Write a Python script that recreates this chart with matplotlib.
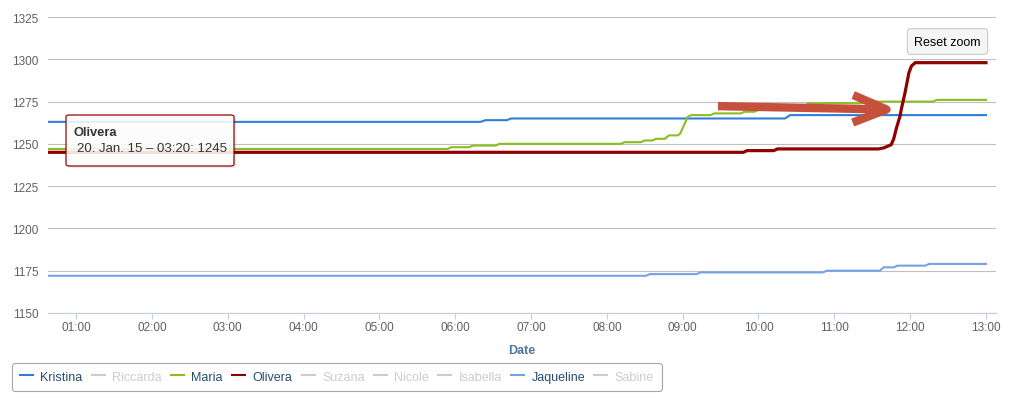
import pandas as pd
import matplotlib
matplotlib.use("Agg")
import matplotlib.pyplot as plt
import matplotlib.dates as mdates
from matplotlib.lines import Line2D
from matplotlib.patches import FancyBboxPatch

plt.rcParams["font.family"] = ["Liberation Sans", "DejaVu Sans"]

DAY = "2015-01-20 "

# series data (times on 20 Jan 2015)
KRISTINA_T = ["00:30", "06:20", "06:24", "06:41", "06:44", "10:21", "10:25", "13:00"]
KRISTINA_V = [1263, 1263, 1264, 1264, 1265, 1265, 1267, 1267]

MARIA_T = ["00:30", "05:54", "05:57", "06:11", "06:14", "06:32", "06:35",
           "08:11", "08:14", "08:27", "08:30", "08:36", "08:39", "08:46", "08:49",
           "08:56", "08:58", "09:01", "09:04", "09:07", "09:22", "09:25",
           "09:46", "09:49", "09:57", "10:00", "10:36", "10:39", "11:21", "11:24",
           "12:18", "12:21", "13:00"]
MARIA_V = [1247, 1247, 1248, 1248, 1249, 1249, 1250,
           1250, 1251, 1251, 1252, 1252, 1253, 1253, 1255,
           1255, 1256, 1261, 1266, 1267, 1267, 1268,
           1268, 1269, 1269, 1270, 1270, 1274, 1274, 1275,
           1275, 1276, 1276]

OLIVERA_T = ["00:30", "09:48", "09:51", "10:12", "10:15", "11:35", "11:39", "11:45",
             "11:47", "11:49", "11:52", "11:53", "11:56", "11:59", "12:01", "12:04", "13:00"]
OLIVERA_V = [1245, 1245, 1246, 1246, 1247, 1247, 1247.6, 1249.5,
             1253, 1259, 1266.5, 1270.5, 1280.5, 1292, 1296, 1298, 1298]

JAQUELINE_T = ["00:30", "08:31", "08:34", "09:11", "09:14", "10:51", "10:54",
               "11:36", "11:39", "11:47", "11:50", "12:12", "12:15", "13:00"]
JAQUELINE_V = [1172, 1172, 1173, 1173, 1174, 1174, 1175,
               1175, 1177, 1177, 1178, 1178, 1179, 1179]

LEGEND_NAMES = ["Kristina", "Riccarda", "Maria", "Olivera", "Suzana",
                "Nicole", "Isabella", "Jaqueline", "Sabine"]
VISIBLE = {"Kristina": "#2f7ed8", "Maria": "#8bbc21",
           "Olivera": "#910000", "Jaqueline": "#77a1e5"}
Y_TICKS = [1150, 1175, 1200, 1225, 1250, 1275, 1300, 1325]


def _t(lst):
    return pd.to_datetime([DAY + s for s in lst])


W, H = 1014, 410


def px(x, y):
    # pixel (from top-left) -> figure fraction
    return x / W, 1 - y / H


fig = plt.figure(figsize=(W / 100, H / 100), dpi=100)
ax = fig.add_axes([48 / W, 1 - 314 / H, 948 / W, 296 / H])

ax.plot(_t(KRISTINA_T), KRISTINA_V, color=VISIBLE["Kristina"], lw=1.5, zorder=3)
ax.plot(_t(JAQUELINE_T), JAQUELINE_V, color=VISIBLE["Jaqueline"], lw=1.5, zorder=3)
ax.plot(_t(MARIA_T), MARIA_V, color=VISIBLE["Maria"], lw=1.5, zorder=3)
ax.plot(_t(OLIVERA_T), OLIVERA_V, color=VISIBLE["Olivera"], lw=2.3, zorder=4)

ax.set_xlim(pd.Timestamp(DAY + "00:37:50"), pd.Timestamp(DAY + "13:07:55"))
ax.set_ylim(Y_TICKS[0], Y_TICKS[-1])
ax.set_yticks(Y_TICKS)
ax.xaxis.set_major_locator(mdates.HourLocator(byhour=range(1, 14)))
ax.xaxis.set_major_formatter(mdates.DateFormatter("%H:%M"))

ax.grid(axis="y", color="#c0c0c0", lw=0.8)
ax.set_axisbelow(True)
for s in ("top", "left", "right"):
    ax.spines[s].set_visible(False)
ax.spines["bottom"].set_color("#c0d0e0")
ax.spines["bottom"].set_linewidth(0.8)
ax.spines["bottom"].set_zorder(5)
ax.tick_params(axis="x", colors="#606060", labelsize=8.5, length=4, width=0.8,
               pad=1.5, color="#c0d0e0")
ax.tick_params(axis="y", colors="#606060", labelsize=8.5, length=0, pad=7)
ax.set_xlabel("Date", color="#4d759e", fontweight="bold", fontsize=9, labelpad=8)

# red arrow overlay
ax.annotate("", xy=(pd.Timestamp(DAY + "11:50"), 1270.2),
            xytext=(pd.Timestamp(DAY + "09:28"), 1272.3),
            arrowprops=dict(arrowstyle="->,head_length=2.2,head_width=0.9",
                            color="#c6503b", lw=6, mutation_scale=11,
                            shrinkA=0, shrinkB=0, capstyle="butt"),
            zorder=6)

# legend
handles = []
for n in LEGEND_NAMES:
    handles.append(Line2D([], [], color=VISIBLE.get(n, "#cccccc"), lw=1.5))
leg = fig.legend(handles, LEGEND_NAMES, ncol=9, loc="upper left",
                 bbox_to_anchor=px(12, 364), borderaxespad=0, fontsize=9,
                 handlelength=1.05, handletextpad=0.6, columnspacing=0.72,
                 borderpad=0.62, frameon=True, fancybox=True, edgecolor="#909090")
leg.get_frame().set_linewidth(0.8)
for txt in leg.get_texts():
    txt.set_color("#274b6d" if txt.get_text() in VISIBLE else "#cccccc")

# tooltip
x0, y0 = px(66, 167)
x1, y1 = px(234, 116)
shadow = FancyBboxPatch((x0 + 2 / W, y0 - 2 / H), x1 - x0, y1 - y0,
                        boxstyle="round,pad=0,rounding_size=0.004",
                        transform=fig.transFigure, fc="#000000", ec="none",
                        alpha=0.08, zorder=7)
tip = FancyBboxPatch((x0, y0), x1 - x0, y1 - y0,
                     boxstyle="round,pad=0,rounding_size=0.004",
                     transform=fig.transFigure, fc="white", ec="#910000",
                     lw=1.0, alpha=0.88, zorder=8)
fig.patches.extend([shadow, tip])
fig.text(*px(73, 133), "Olivera", fontsize=9.3, fontweight="bold", color="#333333",
         ha="left", va="center", zorder=9)
fig.text(*px(77, 149), "20. Jan. 15 \u2013 03:20: 1245", fontsize=9.5, color="#333333",
         ha="left", va="center", zorder=9)

# reset zoom button
fig.text(*px(947.5, 42.5), "Reset zoom", fontsize=9, color="#000000",
         ha="center", va="center",
         bbox=dict(boxstyle="round,pad=0.55,rounding_size=0.25",
                   fc="#f5f5f5", ec="#cccccc", lw=0.8))

fig.savefig("out.png", dpi=100)
